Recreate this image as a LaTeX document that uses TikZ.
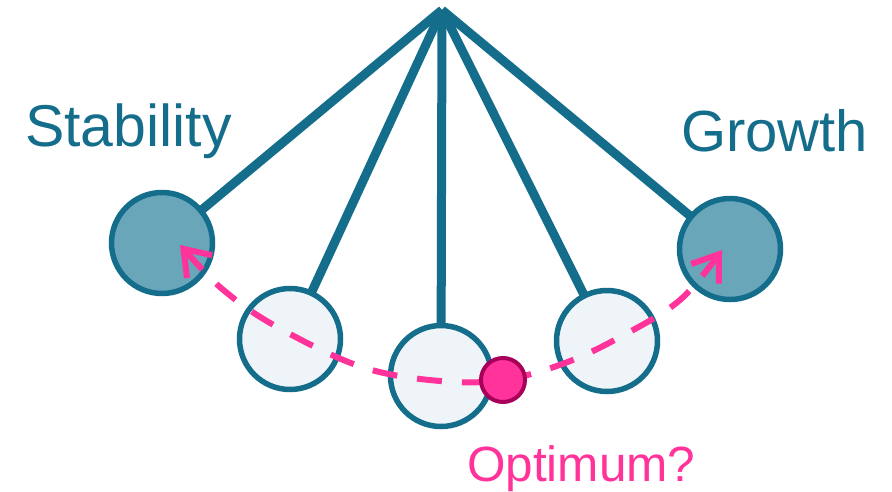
\documentclass[tikz,border=0pt]{standalone}
\usepackage{fontspec}
\setmainfont{Liberation Sans}
\usetikzlibrary{arrows.meta,backgrounds}
\definecolor{teal1}{HTML}{136D8B}
\definecolor{darkfill}{HTML}{6AA6BA}
\definecolor{lightfill}{HTML}{EEF4F8}
\definecolor{pinkc}{HTML}{FF3399}
\definecolor{pinkdark}{HTML}{A8005A}
\tikzset{
  string/.style={draw=teal1, line width=9pt},
  bob/.style={circle, draw=teal1, line width=5.5pt, minimum size=101pt, inner sep=0pt},
  darkbob/.style={bob, fill=darkfill},
  lightbob/.style={bob, fill=lightfill},
  label text/.style={inner sep=0pt, anchor=base west, text=teal1, font=\fontsize{58}{62}\selectfont},
  swing/.style={draw=pinkc, line width=6pt, dash pattern=on 25pt off 20pt,
    {Straight Barb[length=24pt,width=34pt,line width=6pt]}-{Straight Barb[length=24pt,width=34pt,line width=6pt]}},
  optdot/.style={circle, draw=pinkdark, fill=pinkc, line width=4pt, minimum size=44pt, inner sep=0pt}
}
\begin{document}
\begin{tikzpicture}[x=1pt,y=-1pt]
\useasboundingbox (0,0) rectangle (892,491);
\coordinate (pivot) at (442,10);
\node[darkbob] (L) at (162,243) {};
\node[lightbob] (B2) at (290,339) {};
\node[lightbob] (B3) at (441,376) {};
\node[lightbob] (B4) at (607,341) {};
\node[darkbob] (R) at (730,249) {};
\begin{scope}[on background layer]
\foreach \b in {L,B2,B3,B4,R} \draw[string] (pivot) -- (\b.center);
\end{scope}
\coordinate (tipL) at (180,245);
\coordinate (tipR) at (722,250);
\draw[swing] plot[smooth, tension=0.6] coordinates {(tipL) (232,297) (290,334) (365,368) (440,381) (503,380) (565,363) (622,336) (680,300) (tipR)};
\node[optdot] (opt) at (503,380) {};
\node[label text, font=\fontsize{59}{63}\selectfont] (stab) at (25,146) {Stability};
\node[label text] (grow) at (681,151) {Growth};
\node[label text, text=pinkc, font=\fontsize{49.5}{54}\selectfont] (optl) at (467,481) {Optimum?};
\end{tikzpicture}
\end{document}
